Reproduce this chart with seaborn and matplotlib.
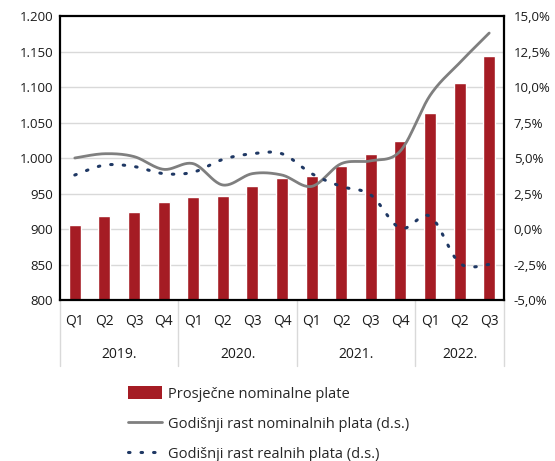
import numpy as np
import pandas as pd
import matplotlib
matplotlib.use("Agg")
import matplotlib.pyplot as plt
import seaborn as sns
from matplotlib.lines import Line2D
from matplotlib.patches import Patch
import matplotlib.transforms as mtrans

# ---- data ----
years = ["2019.", "2020.", "2021.", "2022."]
quarters = ["Q1", "Q2", "Q3", "Q4", "Q1", "Q2", "Q3", "Q4", "Q1", "Q2", "Q3", "Q4", "Q1", "Q2", "Q3"]
avg_wage = [905, 919, 924, 938, 945, 947, 960, 972, 974, 989, 1006, 1024, 1064, 1106, 1144]
nominal_growth = [5.0, 5.3, 5.1, 4.2, 4.6, 3.1, 3.9, 3.8, 3.0, 4.6, 4.8, 5.5, 9.4, 11.7, 13.8]
real_growth = [3.8, 4.5, 4.4, 3.9, 4.0, 4.9, 5.3, 5.3, 3.9, 3.0, 2.4, 0.05, 0.9, -2.4, -2.5]
label_bar = "Prosječne nominalne plate"
label_nom = "Godišnji rast nominalnih plata (d.s.)"
label_real = "Godišnji rast realnih plata (d.s.)"

BAR = "#A51C24"
GRAY = "#7F7F7F"
NAVY = "#1F3864"
DOTS = (0, (0.5, 3.6))

sns.set_theme(style="white")
plt.rcParams["font.family"] = ["Open Sans", "DejaVu Sans"]

fig = plt.figure(figsize=(5.55, 4.61), dpi=100)
W, H = 555, 461
ax = fig.add_axes([60 / W, 1 - 300 / H, 444 / W, 284 / H])

ids = [f"{i:02d}" for i in range(len(avg_wage))]
df = pd.DataFrame({"id": ids, "wage": avg_wage})
sns.barplot(data=df, x="id", y="wage", ax=ax, color=BAR, width=0.4,
            saturation=1, zorder=2)
ax.set_ylim(800, 1200)
ax.set_xlim(-0.5, len(ids) - 0.5)
yt = np.arange(800, 1201, 50)
ax.set_yticks(yt)
ax.set_yticklabels([f"{v:,}".replace(",", ".") for v in yt], fontsize=9.5, color="#1a1a1a")
ax.set_xticks(range(len(ids)))
ax.set_xticklabels(quarters, fontsize=10, color="#1a1a1a")
ax.tick_params(axis="x", length=0, pad=10)
ax.tick_params(axis="y", length=0, pad=5)
ax.set_xlabel("")
ax.set_ylabel("")
for v in yt[1:-1]:
    ax.axhline(v, color="#D9D9D9", lw=1, zorder=0)
for s in ax.spines.values():
    s.set_color("black")
    s.set_linewidth(1.6)

ax2 = ax.twinx()
ax2.set_ylim(-5, 15)
rt = np.arange(-5, 15.1, 2.5)
ax2.set_yticks(rt)
ax2.set_yticklabels([f"{v:.1f}%".replace(".", ",") for v in rt], fontsize=9.5, color="#1a1a1a")
ax2.tick_params(axis="y", length=0, pad=7)
for s in ax2.spines.values():
    s.set_visible(False)
ax2.grid(False)


def smooth(xs, ys, n=24):
    xs = np.asarray(xs, float)
    ys = np.asarray(ys, float)
    px = np.concatenate([[xs[0]], xs, [xs[-1]]])
    py = np.concatenate([[ys[0]], ys, [ys[-1]]])
    ox, oy = [], []
    for i in range(1, len(px) - 2):
        t = np.linspace(0, 1, n, endpoint=(i == len(px) - 3))
        for arr, out in ((px, ox), (py, oy)):
            p0, p1, p2, p3 = arr[i - 1], arr[i], arr[i + 1], arr[i + 2]
            m1 = (p2 - p0) / 2
            m2 = (p3 - p1) / 2
            h00 = 2 * t**3 - 3 * t**2 + 1
            h10 = t**3 - 2 * t**2 + t
            h01 = -2 * t**3 + 3 * t**2
            h11 = t**3 - t**2
            out.extend(h00 * p1 + h10 * m1 + h01 * p2 + h11 * m2)
    return np.array(ox), np.array(oy)


xpos = np.arange(len(ids))
sx, sy = smooth(xpos, nominal_growth)
ax2.plot(sx, sy, color=GRAY, lw=2, solid_capstyle="round")
sx, sy = smooth(xpos, real_growth)
ax2.plot(sx, sy, color=NAVY, lw=2.2, linestyle=DOTS, dash_capstyle="round")

# year labels and separators
trans = mtrans.blended_transform_factory(ax.transData, ax.transAxes)
bounds = [-0.5, 3.5, 7.5, 11.5, 14.5]
for b in bounds:
    ax.add_line(Line2D([b, b], [0, -66 / 284], transform=trans, color="#D9D9D9",
                       lw=1, clip_on=False))
for i, y in enumerate(years):
    c = (bounds[i] + bounds[i + 1]) / 2
    ax.text(c, -54 / 284, y, transform=trans, ha="center", va="center",
            fontsize=10, color="#1a1a1a")

handles = [
    Patch(facecolor=BAR, edgecolor="none"),
    Line2D([], [], color=GRAY, lw=2),
    Line2D([], [], color=NAVY, lw=2.2, linestyle=DOTS, dash_capstyle="round"),
]
fig.legend(handles, [label_bar, label_nom, label_real], loc="upper left",
           bbox_to_anchor=(124 / W, 1 - 382 / H), frameon=False, fontsize=10.5,
           handlelength=2.3, handleheight=1.0, handletextpad=0.45, labelspacing=1.0,
           borderaxespad=0, borderpad=0.3)

fig.savefig("out.png", dpi=100)
